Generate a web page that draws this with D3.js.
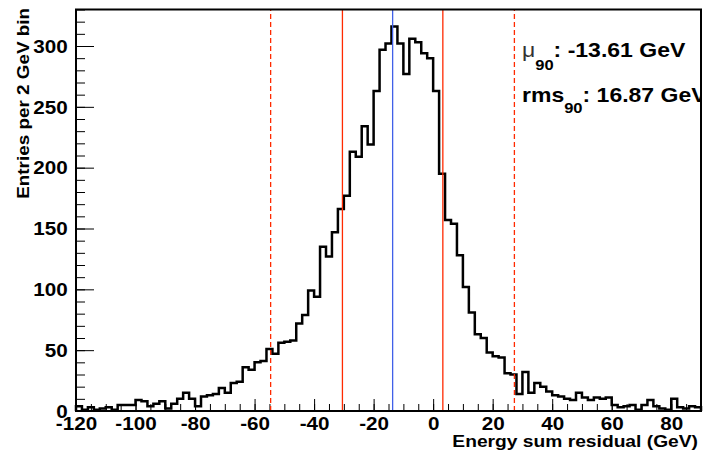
<!DOCTYPE html>
<meta charset="utf-8">
<style>
body { margin: 0; background: #fff; }
svg text { font-family: "Liberation Sans", Arial, sans-serif; font-weight: bold; fill: #000; }
</style>
<svg width="704" height="456"></svg>
<script src="https://d3js.org/d3.v7.min.js"></script>
<script>

// histogram: 2 GeV bins from -120 to 90
var binStart = -120, binWidth = 2;
var counts = [
  4, 1, 3, 1, 2, 3, 1, 5, 5, 5, 9, 8, 4, 6, 8,
  2, 6, 10, 15, 10, 4, 12, 13, 14, 19, 15, 23, 24, 36, 34,
  40, 41, 51, 47, 56, 57, 58, 72, 79, 99,
  94, 135, 127, 147, 166, 177, 213, 209, 234, 219,
  263, 297, 302, 316, 302, 277, 306, 303, 294, 290,
  263, 195, 157, 154, 128, 102, 81, 63, 60, 48,
  45, 44, 31, 30, 14, 32, 15, 23, 20, 16,
  13, 12, 10, 9, 15, 11, 9, 11, 10, 11,
  5, 3, 4, 5, 1, 5, 9, 4, 2, 1,
  10, 3, 2, 4, 3
];
var xTicks = [-120, -100, -80, -60, -40, -20, 0, 20, 40, 60, 80];
var yTicks = [0, 50, 100, 150, 200, 250, 300];
var mu90 = -13.61, rms90 = 16.87;
var solidLines = [mu90 - rms90, mu90 + rms90];
var dashedLines = [-54.6, 27.3];

var svg = d3.select("svg");
var SX = 1.18; // the fonts in the picture are wider than Arial

var x = d3.scaleLinear().domain([-120, 90]).range([76, 701]);
var y = d3.scaleLinear().domain([0, 330]).range([411, 9.5]);

svg.append("defs").append("clipPath").attr("id", "cut")
  .append("rect").attr("x", 0).attr("y", 0).attr("width", 701).attr("height", 456);

// minor ticks
svg.append("g")
    .attr("transform", "translate(0," + y(0) + ")")
    .call(d3.axisBottom(x).tickValues(d3.range(-120, 91, 5)).tickSize(-7).tickFormat(""))
    .call(function(g) { g.select(".domain").remove(); g.selectAll("line").attr("stroke", "#000").attr("stroke-width", 1); });
svg.append("g")
    .attr("transform", "translate(" + x(-120) + ",0)")
    .call(d3.axisLeft(y).tickValues(d3.range(0, 331, 10)).tickSize(-9).tickFormat(""))
    .call(function(g) { g.select(".domain").remove(); g.selectAll("line").attr("stroke", "#000").attr("stroke-width", 1); });

// major ticks + labels
var xAxis = svg.append("g")
    .attr("transform", "translate(0," + y(0) + ")")
    .call(d3.axisBottom(x).tickValues(xTicks).tickSize(-12).tickFormat(function(d) { return String(d); }));
xAxis.select(".domain").remove();
xAxis.selectAll("line").attr("stroke", "#000").attr("stroke-width", 1);
xAxis.selectAll("text")
    .attr("y", 19).attr("dy", null)
    .attr("fill", "#000")
    .style("font-size", "17.5px")
    .attr("transform", "scale(" + SX + ",1)");

var yAxis = svg.append("g")
    .attr("transform", "translate(" + x(-120) + ",0)")
    .call(d3.axisLeft(y).tickValues(yTicks).tickSize(-18).tickFormat(function(d) { return String(d); }));
yAxis.select(".domain").remove();
yAxis.selectAll("line").attr("stroke", "#000").attr("stroke-width", 1);
yAxis.selectAll("text")
    .attr("x", -7).attr("dy", "0.36em")
    .attr("fill", "#000")
    .style("font-size", "17.5px")
    .attr("transform", "scale(" + SX + ",1)");

// histogram outline
var pts = [[binStart, 0]];
counts.forEach(function(c, i) { pts.push([binStart + i * binWidth, c]); });
pts.push([binStart + counts.length * binWidth, counts[counts.length - 1]]);
pts.push([binStart + counts.length * binWidth, 0]);

svg.append("path")
    .datum(pts)
    .attr("fill", "none")
    .attr("stroke", "#000")
    .attr("stroke-width", 2.5)
    .attr("d", d3.line().x(function(d) { return x(d[0]); }).y(function(d) { return y(d[1]); }).curve(d3.curveStepAfter));

// vertical lines
svg.selectAll(".dashed").data(dashedLines).enter().append("line")
    .attr("x1", function(d) { return x(d); }).attr("x2", function(d) { return x(d); })
    .attr("y1", y(0)).attr("y2", y(330))
    .attr("stroke", "#ff2a00").attr("stroke-width", 1.3).attr("stroke-dasharray", "5,3");
svg.selectAll(".solid").data(solidLines).enter().append("line")
    .attr("x1", function(d) { return x(d); }).attr("x2", function(d) { return x(d); })
    .attr("y1", y(0)).attr("y2", y(330))
    .attr("stroke", "#ff2a00").attr("stroke-width", 1.3);
svg.append("line")
    .attr("x1", x(mu90)).attr("x2", x(mu90))
    .attr("y1", y(0)).attr("y2", y(330))
    .attr("stroke", "#4060e8").attr("stroke-width", 1.3);

// frame
svg.append("rect")
    .attr("x", x(-120)).attr("y", y(330))
    .attr("width", x(90) - x(-120)).attr("height", y(0) - y(330))
    .attr("fill", "none").attr("stroke", "#000").attr("stroke-width", 2);

// axis titles
svg.append("text")
    .attr("text-anchor", "end")
    .attr("transform", "translate(698,447) scale(" + SX + ",1)")
    .style("font-size", "16.3px")
    .text("Energy sum residual (GeV)");
svg.append("text")
    .attr("text-anchor", "end")
    .attr("transform", "translate(29,8) rotate(-90) scale(" + SX + ",1)")
    .style("font-size", "16px")
    .text("Entries per 2 GeV bin");

// stats text
var stats = svg.append("g").attr("clip-path", "url(#cut)");
var t1 = stats.append("text")
    .attr("transform", "translate(522,57) scale(" + SX + ",1)")
    .style("font-size", "19.5px");
t1.append("tspan").style("font-weight", "normal").attr("fill", "#333").text("\u03bc");
t1.append("tspan").style("font-size", "14px").attr("dy", 13).text("90");
t1.append("tspan").attr("dy", -13).text(": " + mu90.toFixed(2) + " GeV");

var t2 = stats.append("text")
    .attr("transform", "translate(522,102) scale(" + SX + ",1)")
    .style("font-size", "19.5px");
t2.append("tspan").text("rms");
t2.append("tspan").style("font-size", "14px").attr("dy", 11).text("90");
t2.append("tspan").attr("dy", -11).text(": " + rms90.toFixed(2) + " GeV");

</script>
